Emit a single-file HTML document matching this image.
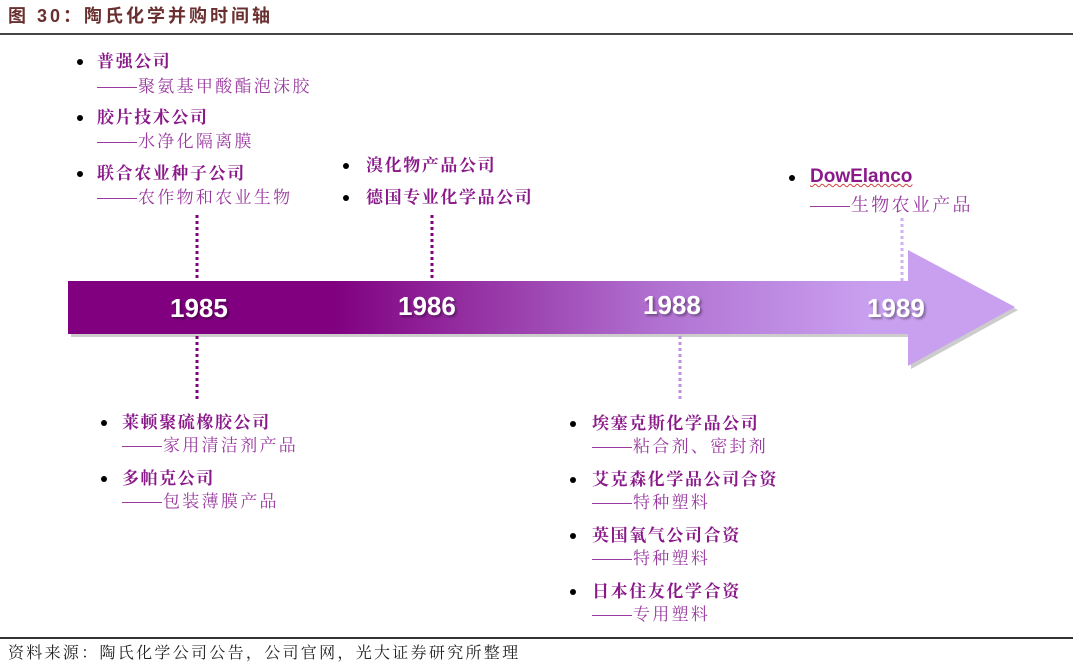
<!DOCTYPE html>
<html><head><meta charset="utf-8"><style>
body{margin:0;width:1080px;height:671px;background:#fff;position:relative;overflow:hidden;font-family:"Liberation Sans","Noto Sans CJK SC",sans-serif}
.t{position:absolute;white-space:nowrap;line-height:1}
.h{font-size:17px;letter-spacing:1.6px;font-weight:bold;color:#8a1a8a;font-family:"Noto Serif CJK SC",serif}
.s{font-size:17px;letter-spacing:2.3px;color:#9a3aa0;font-family:"Noto Serif CJK SC",serif}
.s b{font-weight:normal;letter-spacing:0;display:inline-block;width:40px;height:1px;background:#9a3aa0;vertical-align:middle;margin-right:1px}
.b{position:absolute;width:6px;height:6px;border-radius:50%;background:#000}
.y{position:absolute;font-size:26px;font-weight:bold;color:#fff;text-shadow:2px 2px 2px rgba(0,0,0,.35);line-height:1}
</style></head><body>
<div class="t" style="left:8px;top:7px;font-size:18px;letter-spacing:3px;color:#6a3030;font-weight:bold">图 30：陶氏化学并购时间轴</div>
<div style="position:absolute;left:0;top:33px;width:1073px;height:2px;background:#444"></div>
<svg width="1080" height="671" style="position:absolute;left:0;top:0">
<defs><linearGradient id="g" x1="68" x2="1015" gradientUnits="userSpaceOnUse">
<stop offset="0" stop-color="#800080"/><stop offset="0.28" stop-color="#800080"/><stop offset="0.62" stop-color="#b070d0"/><stop offset="0.85" stop-color="#c9a0f0"/><stop offset="1" stop-color="#c9a0f0"/></linearGradient></defs>
<polygon points="71,284 911,284 911,253 1018,310 911,369 911,337 71,337" fill="#999" opacity=".5"/>
<polygon points="68,281 908,281 908,250 1015,307 908,366 908,334 68,334" fill="url(#g)"/>
<g stroke-dasharray="3,3" stroke-width="3">
<line x1="197" y1="215" x2="197" y2="281" stroke="#800080"/>
<line x1="197" y1="336" x2="197" y2="400" stroke="#800080"/>
<line x1="432" y1="215" x2="432" y2="281" stroke="#800080"/>
<line x1="680" y1="336" x2="680" y2="400" stroke="#c090e0"/>
<line x1="902" y1="218" x2="902" y2="281" stroke="#d0b0f0"/>
</g>
</svg>
<div class="y" style="left:170px;top:295px">1985</div>
<div class="y" style="left:398px;top:293px">1986</div>
<div class="y" style="left:643px;top:292px">1988</div>
<div class="y" style="left:867px;top:295px">1989</div>

<div class="b" style="left:77px;top:59px"></div><div class="t h" style="left:97px;top:51px">普强公司</div>
<div class="t s" style="left:97px;top:76px"><b></b>聚氨基甲酸酯泡沫胶</div>
<div class="b" style="left:77px;top:115px"></div><div class="t h" style="left:97px;top:107px">胶片技术公司</div>
<div class="t s" style="left:97px;top:131px"><b></b>水净化隔离膜</div>
<div class="b" style="left:77px;top:171px"></div><div class="t h" style="left:97px;top:163px">联合农业种子公司</div>
<div class="t s" style="left:97px;top:187px"><b></b>农作物和农业生物</div>

<div class="b" style="left:343px;top:163px"></div><div class="t h" style="left:366px;top:155px">溴化物产品公司</div>
<div class="b" style="left:343px;top:195px"></div><div class="t h" style="left:366px;top:187px">德国专业化学品公司</div>

<div class="b" style="left:789px;top:175px"></div><div class="t" style="left:810px;top:167px;font-size:19px;font-weight:bold;color:#8a1a8a;text-decoration:underline wavy #d04040 1px">DowElanco</div>
<div class="t s" style="left:810px;top:195px;font-size:18px"><b></b>生物农业产品</div>

<div class="b" style="left:101px;top:420px"></div><div class="t h" style="left:122px;top:412px">莱顿聚硫橡胶公司</div>
<div class="t s" style="left:122px;top:435px"><b></b>家用清洁剂产品</div>
<div class="b" style="left:101px;top:476px"></div><div class="t h" style="left:122px;top:468px">多帕克公司</div>
<div class="t s" style="left:122px;top:491px"><b></b>包装薄膜产品</div>

<div class="b" style="left:570px;top:421px"></div><div class="t h" style="left:592px;top:413px">埃塞克斯化学品公司</div>
<div class="t s" style="left:592px;top:436px"><b></b>粘合剂、密封剂</div>
<div class="b" style="left:570px;top:477px"></div><div class="t h" style="left:592px;top:469px">艾克森化学品公司合资</div>
<div class="t s" style="left:592px;top:492px"><b></b>特种塑料</div>
<div class="b" style="left:570px;top:533px"></div><div class="t h" style="left:592px;top:525px">英国氧气公司合资</div>
<div class="t s" style="left:592px;top:548px"><b></b>特种塑料</div>
<div class="b" style="left:570px;top:589px"></div><div class="t h" style="left:592px;top:581px">日本住友化学合资</div>
<div class="t s" style="left:592px;top:604px"><b></b>专用塑料</div>

<div style="position:absolute;left:0;top:637px;width:1073px;height:2px;background:#333"></div>
<div class="t" style="left:8px;top:644px;font-size:16px;letter-spacing:2.3px;color:#222;font-family:'Noto Serif CJK SC',serif">资料来源：陶氏化学公司公告，公司官网，光大证券研究所整理</div>
</body></html>
